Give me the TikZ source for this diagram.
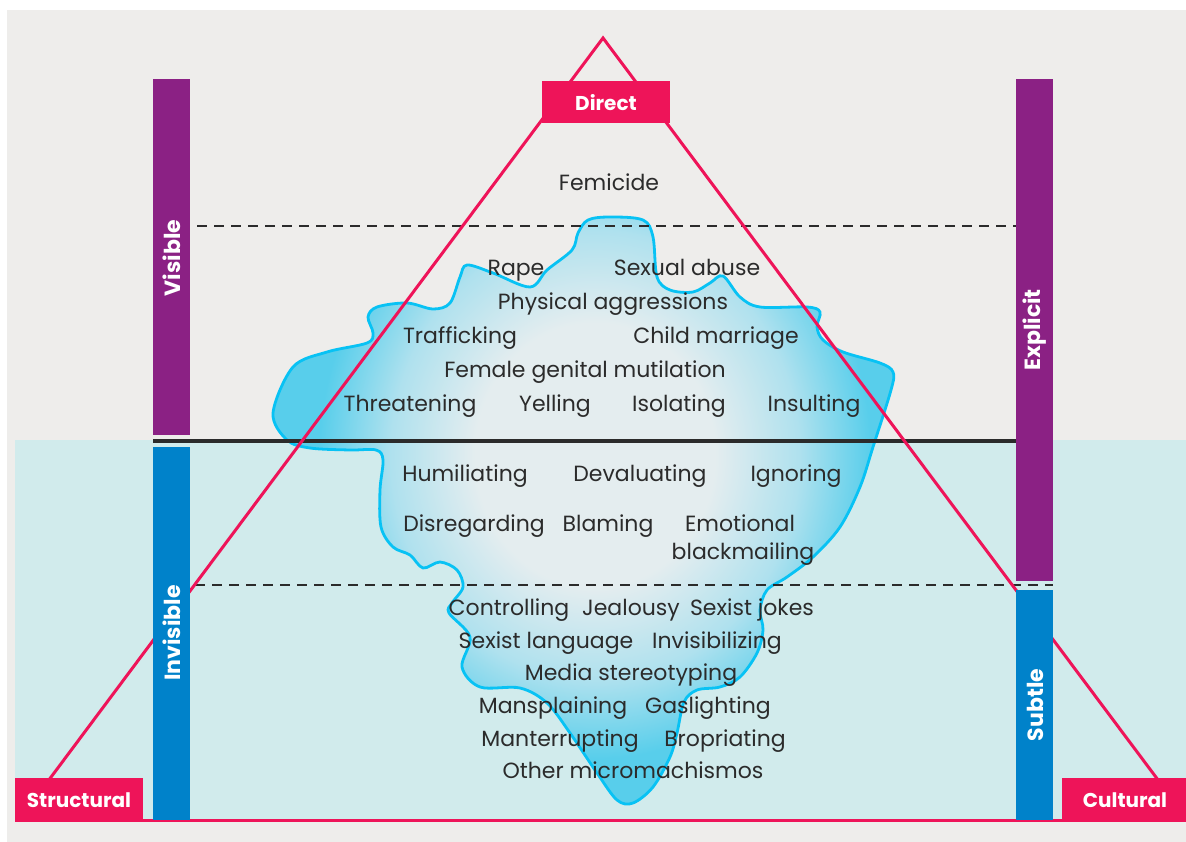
\documentclass[tikz,border=0pt]{standalone}
\usepackage{fontspec}
\setmainfont{Poppins}
\definecolor{bggray}{HTML}{EEEDEB}
\definecolor{bgcyan}{HTML}{D1EBEC}
\definecolor{pinkc}{HTML}{EE1459}
\definecolor{purplec}{HTML}{8B2184}
\definecolor{bluec}{HTML}{0082CA}
\definecolor{icel}{HTML}{08C2F4}
\definecolor{icein}{HTML}{E4EDEF}
\definecolor{icemid}{HTML}{AFE1EE}
\definecolor{iceout}{HTML}{58CEEB}
\definecolor{txt}{HTML}{2B2B2B}
\pgfdeclareradialshading{ice}{\pgfpoint{0bp}{0bp}}{color(0bp)=(icein); color(5bp)=(icein); color(8.5bp)=(icemid); color(11.5bp)=(iceout); color(50bp)=(iceout)}
\tikzset{
  lbl/.style={text=txt, font=\fontsize{22}{26}\selectfont, inner sep=0pt, anchor=base},
  barlbl/.style={text=white, font=\bfseries\fontsize{22}{26}\selectfont, inner sep=0pt, rotate=90},
  boxlbl/.style={text=white, font=\bfseries\fontsize{20}{24}\selectfont, inner sep=0pt},
  pinkbox/.style={fill=pinkc, draw=none},
  dashline/.style={draw=txt, line width=2.3pt, dash pattern=on 10pt off 7pt},
}
\begin{document}
\begin{tikzpicture}[x=1pt,y=-1pt]
\useasboundingbox (0,0) rectangle (1186,842);
\fill[white] (0,0) rectangle (1186,842);
\fill[bggray] (7,10) rectangle (1186,842);
\fill[bgcyan] (15,440) rectangle (1186,820);
% iceberg
\def\blob{plot[smooth cycle, tension=0.55] coordinates {(610,217) (643,220) (653,237) (657,277) (670,290) (693,292) (710,283) (723,276) (740,297) (760,307) (807,307) (820,312) (817,327) (823,340) (843,352) (880,363) (893,372) (891,390) (873,447) (860,487) (840,527) (813,557) (787,577) (767,590) (760,610) (763,630) (757,653) (740,677) (720,687) (697,690) (684,702) (677,733) (670,757) (653,787) (633,803) (617,800) (597,773) (570,733) (547,703) (520,688) (480,687) (462,667) (470,637) (449,613) (452,603) (463,587) (457,570) (440,562) (423,568) (410,555) (393,547) (381,527) (380,490) (383,460) (376,450) (350,450) (310,448) (287,440) (273,413) (293,367) (327,352) (367,343) (373,333) (368,317) (377,307) (407,303) (433,309) (450,303) (460,277) (467,265) (493,273) (530,287) (547,270) (572,250) (578,233) (588,220)}}
\begin{scope}
\clip \blob;
\shade[shading=ice] (595,455) ellipse [x radius=600pt, y radius=660pt];
\end{scope}
\draw[icel, line width=2.8pt] \blob;
% dashed and black lines
\coordinate (d1a) at (197,226); \coordinate (d1b) at (1016,226);
\coordinate (d2a) at (195,585); \coordinate (d2b) at (1053,585);
\coordinate (bla) at (153,441); \coordinate (blb) at (1016,441);
\draw[dashline] (d1a) -- (d1b);
\draw[dashline] (d2a) -- (d2b);
\draw[txt, line width=4.3pt] (bla) -- (blb);
% triangle
\coordinate (apex) at (603,38);
\coordinate (tl) at (19,820);
\coordinate (tr) at (1188,820);
\coordinate (bl) at (15,820);
\coordinate (br) at (1186,820);
\draw[pinkc, line width=3pt, line join=miter] (tl) -- (apex) -- (tr);
\draw[pinkc, line width=3pt] (bl) -- (br);
% bars
\fill[purplec] (153,79) rectangle (190,435);
\fill[bluec] (153,447) rectangle (190,820);
\fill[purplec] (1016,79) rectangle (1053,581);
\fill[bluec] (1016,590) rectangle (1053,820);
\node[barlbl] (visible) at (172,258) {Visible};
\node[barlbl] (invisible) at (172,633) {Invisible};
\node[barlbl] (explicit) at (1035,330) {Explicit};
\node[barlbl] (subtle) at (1035,705) {Subtle};
% boxes
\fill[pinkbox] (542,81) rectangle (670,123);
\fill[pinkbox] (15,778) rectangle (143,820);
\fill[pinkbox] (1062,778) rectangle (1186,820);
\node[boxlbl] (direct) at (606,103) {Direct};
\node[boxlbl] (structural) at (79,800) {Structural};
\node[boxlbl] (cultural) at (1125,800) {Cultural};
% texts (base anchors)
\node[lbl] (t1) at (609,191) {Femicide};
\node[lbl] (t2) at (516,276) {Rape};
\node[lbl] (t3) at (687,276) {Sexual abuse};
\node[lbl] (t4) at (613,309) {Physical aggressions};
\node[lbl] (t5) at (460,343) {Trafficking};
\node[lbl] (t6) at (716,343) {Child marriage};
\node[lbl] (t7) at (585,377) {Female genital mutilation};
\node[lbl] (t8) at (410,411) {Threatening};
\node[lbl] (t9) at (555,411) {Yelling};
\node[lbl] (t10) at (679,411) {Isolating};
\node[lbl] (t11) at (814,411) {Insulting};
\node[lbl] (t12) at (465,481) {Humiliating};
\node[lbl] (t13) at (640,481) {Devaluating};
\node[lbl] (t14) at (796,481) {Ignoring};
\node[lbl] (t15) at (474,531) {Disregarding};
\node[lbl] (t16) at (608,531) {Blaming};
\node[lbl] (t17) at (740,531) {Emotional};
\node[lbl] (t18) at (743,559) {blackmailing};
\node[lbl] (t19) at (509,615) {Controlling};
\node[lbl] (t20) at (631,615) {Jealousy};
\node[lbl] (t21) at (752,615) {Sexist jokes};
\node[lbl] (t22) at (546,648) {Sexist language};
\node[lbl] (t23) at (717,648) {Invisibilizing};
\node[lbl] (t24) at (631,680) {Media stereotyping};
\node[lbl] (t25) at (553,713) {Mansplaining};
\node[lbl] (t26) at (708,713) {Gaslighting};
\node[lbl] (t27) at (560,746) {Manterrupting};
\node[lbl] (t28) at (725,746) {Bropriating};
\node[lbl] (t29) at (633,778) {Other micromachismos};
\end{tikzpicture}
\end{document}
